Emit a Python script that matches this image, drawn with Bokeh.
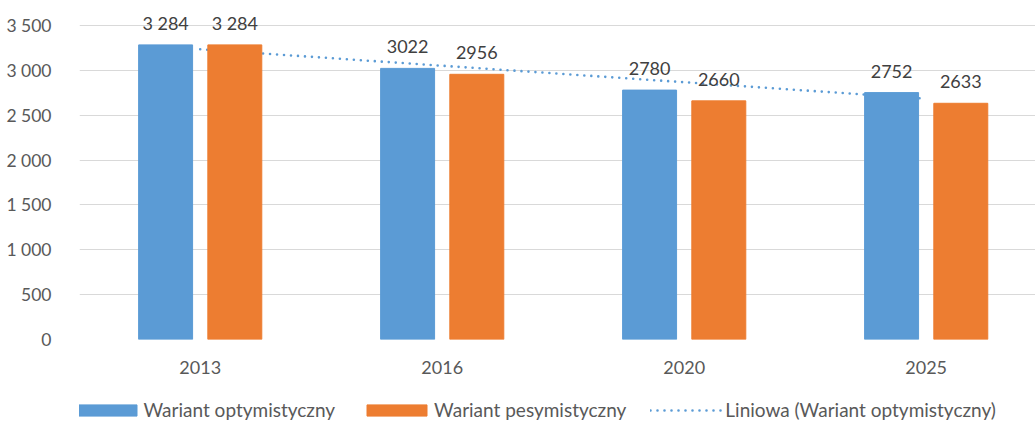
from bokeh.plotting import figure
from bokeh.layouts import column
from bokeh.models import Range1d, FixedTicker, ColumnDataSource, LabelSet, Legend, LegendItem
from bokeh.transform import dodge
from bokeh.core.properties import value
from bokeh.embed import file_html
from bokeh.resources import INLINE
import numpy as np

# ---- data ----
years = ["2013", "2016", "2020", "2025"]
optimistic = [3284, 3022, 2780, 2752]
pessimistic = [3284, 2956, 2660, 2633]
opt_labels = ["3 284", "3022", "2780", "2752"]
pes_labels = ["3 284", "2956", "2660", "2633"]
y_ticks = [0, 500, 1000, 1500, 2000, 2500, 3000, 3500]
y_tick_labels = ["0", "500", "1 000", "1 500", "2 000", "2 500", "3 000", "3 500"]
series_names = ["Wariant optymistyczny", "Wariant pesymistyczny",
                "Liniowa (Wariant optymistyczny)"]

# ---- styles ----
BLUE = "#5B9BD5"
ORANGE = "#ED7D31"
FONT = "Lato"
TXT = "#595959"
LBL = "#404040"
OFF = 0.143
BW = 0.223
W = 1035

idx = list(range(len(years)))
slope, intercept = np.polyfit(idx, optimistic, 1)
trend = [intercept + slope * i for i in idx]

src = ColumnDataSource(dict(x=idx, opt=optimistic, pes=pessimistic,
                            opt_lbl=opt_labels, pes_lbl=pes_labels, trend=trend))

p = figure(width=W, height=385, output_backend="svg", toolbar_location=None,
           x_range=Range1d(-0.4988, 3.4517), y_range=Range1d(0, 3667.2),
           min_border_left=79, min_border_right=0, min_border_top=10,
           min_border_bottom=46)
p.outline_line_color = None
p.background_fill_color = "white"
p.border_fill_color = "white"

r_trend = p.line("x", "trend", source=src, line_color=BLUE, line_width=2.6,
                 line_dash="0 7", line_cap="round")
r_opt = p.vbar(x=dodge("x", -OFF), top="opt", width=BW, source=src,
               fill_color=BLUE, line_color=BLUE)
r_pes = p.vbar(x=dodge("x", OFF), top="pes", width=BW, source=src,
               fill_color=ORANGE, line_color=ORANGE)

for col, lbl, off in (("opt", "opt_lbl", -OFF), ("pes", "pes_lbl", OFF)):
    p.add_layout(LabelSet(x=dodge("x", off), y=col, text=lbl, source=src,
                          text_align="center", text_baseline="alphabetic",
                          y_offset=15, text_font=value(FONT),
                          text_font_size="18px", text_color=LBL))

# axes
p.xaxis.ticker = FixedTicker(ticks=idx)
p.xaxis.major_label_overrides = {i: y for i, y in zip(idx, years)}
p.yaxis.ticker = FixedTicker(ticks=y_ticks)
p.yaxis.major_label_overrides = {t: l for t, l in zip(y_ticks, y_tick_labels)}
for ax in (p.xaxis, p.yaxis):
    ax.axis_line_color = None
    ax.major_tick_line_color = None
    ax.minor_tick_line_color = None
    ax.major_label_text_font = FONT
    ax.major_label_text_color = TXT
p.yaxis.major_label_text_font_size = "17.5px"
p.yaxis.major_label_standoff = 22
p.xaxis.major_label_text_font_size = "18px"
p.xaxis.major_label_standoff = 15

p.xgrid.visible = False
p.ygrid.ticker = FixedTicker(ticks=y_ticks)
p.ygrid.grid_line_color = "#D9D9D9"
p.ygrid.grid_line_width = 1

# ---- legend strip below the chart ----
pl = figure(width=W, height=36, output_backend="svg", toolbar_location=None,
            x_range=Range1d(0, 1), y_range=Range1d(0, 1),
            x_axis_location=None, y_axis_location=None,
            min_border_left=0, min_border_right=0, min_border_top=0,
            min_border_bottom=0)
pl.outline_line_color = None
pl.grid.visible = False
pl.background_fill_color = "white"
pl.border_fill_color = "white"
# legend proxies, placed outside the visible range
lg_opt = pl.vbar(x=[-5], top=[-5], width=BW, fill_color=BLUE, line_color=BLUE)
lg_pes = pl.vbar(x=[-5], top=[-5], width=BW, fill_color=ORANGE, line_color=ORANGE)
lg_tr = pl.line(x=[-6, -5], y=[-5, -5], line_color=BLUE, line_width=2.6,
                line_dash="0 7", line_cap="round")

legend = Legend(items=[LegendItem(label=series_names[0], renderers=[lg_opt]),
                       LegendItem(label=series_names[1], renderers=[lg_pes]),
                       LegendItem(label=series_names[2], renderers=[lg_tr])],
                location=(-10.5, 0), orientation="horizontal",
                glyph_width=75, glyph_height=14, label_standoff=0, spacing=24,
                padding=0, margin=0, border_line_color=None,
                background_fill_alpha=0, label_text_font=FONT,
                label_text_font_size="19px", label_text_color=TXT)
pl.add_layout(legend)

layout = column(p, pl, spacing=0)
open("out.html", "w").write(file_html(layout, INLINE))
